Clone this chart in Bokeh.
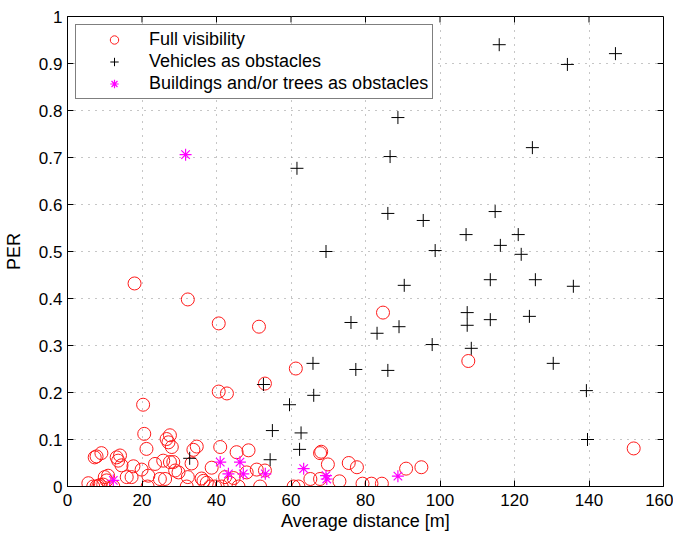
from bokeh.plotting import figure
from bokeh.models import FixedTicker, Range1d, Legend, LegendItem
from bokeh.embed import file_html
from bokeh.resources import INLINE

# Full visibility (red circles)
full_x = [18.0, 32.3, 40.6, 51.4, 53.0, 40.6, 42.8, 61.3, 84.7, 107.6, 152.0, 20.3, 20.6, 21.2,
          5.6, 6.9, 7.8, 8.3, 8.7, 9.6, 10.0, 10.9, 10.5, 7.3, 7.8, 9.1, 12.3, 13.2, 14.1, 13.6,
          14.5, 15.9, 17.2, 17.7, 19.9, 21.7, 21.5, 23.5, 24.8, 26.2, 25.7, 26.6, 27.5, 27.1,
          28.0, 27.5, 28.4, 28.9, 29.8,
          32.0, 32.3, 33.3, 33.8, 34.7, 36.0, 36.5, 37.4, 38.3, 38.7, 39.6, 41.0, 41.4, 42.3,
          43.6, 44.6, 45.4, 45.9, 48.6, 48.1, 50.8, 51.7, 53.0,
          60.7, 62.0, 65.2, 67.8, 68.1, 67.8, 69.9, 73.0, 75.5, 77.7, 79.2, 81.6, 84.4, 90.9, 95.0]
full_y = [0.432, 0.398, 0.347, 0.340, 0.219, 0.202, 0.198, 0.251, 0.370, 0.267, 0.081, 0.174, 0.112, 0.080,
          0.007, 0.000, 0.000, 0.001, 0.003, 0.004, 0.020, 0.023, 0.013, 0.062, 0.064, 0.071, 0.000, 0.062, 0.066, 0.055,
          0.045, 0.020, 0.020, 0.043, 0.036, 0.023, 0.000, 0.048, 0.016, 0.016, 0.055, 0.101, 0.109, 0.094,
          0.084, 0.052, 0.052, 0.034, 0.030,
          0.000, 0.020, 0.049, 0.078, 0.085, 0.017, 0.012, 0.008, 0.000, 0.040, 0.000, 0.084, 0.000, 0.020,
          0.008, 0.018, 0.073, 0.000, 0.077, 0.030, 0.036, 0.000, 0.034,
          0.000, 0.000, 0.016, 0.071, 0.074, 0.016, 0.047, 0.011, 0.050, 0.041, 0.006, 0.006, 0.006, 0.038, 0.041]

# Vehicles as obstacles (black plus)
veh_x = [115.9, 147.1, 134.2, 88.7, 86.6, 124.8, 61.6, 114.8, 86.0, 95.5, 107.0, 121.0, 116.2, 121.8,
         98.7, 69.4, 125.6, 113.5, 90.4, 135.8, 107.3, 124.0, 113.5, 76.1, 89.0, 107.3, 83.1, 97.9,
         108.4, 130.4, 65.9, 77.4, 86.0, 139.3, 66.1, 59.6, 52.6, 55.0, 62.7, 62.3, 139.6, 54.4, 32.8]
veh_y = [0.940, 0.921, 0.898, 0.785, 0.702, 0.721, 0.677, 0.585, 0.581, 0.566, 0.536, 0.536, 0.513, 0.494,
         0.502, 0.500, 0.440, 0.440, 0.428, 0.426, 0.370, 0.362, 0.355, 0.349, 0.340, 0.343, 0.326, 0.302,
         0.294, 0.262, 0.262, 0.249, 0.247, 0.204, 0.194, 0.174, 0.217, 0.119, 0.114, 0.079, 0.100, 0.057, 0.060]

# Buildings and/or trees as obstacles (magenta asterisk)
bld_x = [31.7, 12.3, 41.0, 46.3, 43.2, 47.2, 53.1, 63.4, 69.4, 69.6, 88.7]
bld_y = [0.706, 0.013, 0.052, 0.052, 0.027, 0.027, 0.027, 0.038, 0.023, 0.016, 0.022]

x_ticks = [0, 20, 40, 60, 80, 100, 120, 140, 160]
y_ticks = [0, 0.1, 0.2, 0.3, 0.4, 0.5, 0.6, 0.7, 0.8, 0.9, 1]
y_labels = ["0", "0.1", "0.2", "0.3", "0.4", "0.5", "0.6", "0.7", "0.8", "0.9", "1"]

FONT = "Liberation Sans"
FW, FH = 596, 470
TICK = 6

p = figure(frame_width=FW, frame_height=FH, output_backend="svg", toolbar_location=None,
           x_range=Range1d(0, 160), y_range=Range1d(0, 1),
           min_border_left=66, min_border_top=16, min_border_right=10, min_border_bottom=47,
           x_axis_label="Average distance [m]", y_axis_label="PER")
p.outline_line_color = "black"
p.outline_line_alpha = 1.0

r_full = p.scatter(full_x, full_y, marker="circle", size=13, fill_color=None,
                   line_color="#ff1a1a", line_width=1)
r_veh = p.scatter(veh_x, veh_y, marker="cross", size=13, line_color="black", line_width=1)
r_bld = p.scatter(bld_x, bld_y, marker="asterisk", size=12, line_color="#ff00ff", line_width=1.2)

for ax in (p.xaxis[0], p.yaxis[0]):
    ax.major_tick_in = TICK
    ax.major_tick_out = 0
    ax.minor_tick_line_color = None
    ax.axis_line_color = "black"
    ax.major_tick_line_color = "black"
    ax.major_label_text_font = FONT
    ax.major_label_text_font_size = "17px"
    ax.major_label_text_color = "black"
    ax.axis_label_text_font = FONT
    ax.axis_label_text_font_size = "18px"
    ax.axis_label_text_font_style = "normal"
    ax.axis_label_text_color = "black"

p.xaxis[0].ticker = FixedTicker(ticks=x_ticks)
p.yaxis[0].ticker = FixedTicker(ticks=y_ticks)
p.yaxis[0].major_label_overrides = {t: l for t, l in zip(y_ticks, y_labels)}
p.xaxis[0].major_label_standoff = 7
p.xaxis[0].axis_label_standoff = 2
p.yaxis[0].major_label_standoff = 5
p.yaxis[0].axis_label_standoff = 12

# inward ticks on the top and right edges of the box
xr = p.x_range.end - p.x_range.start
yr = p.y_range.end - p.y_range.start
inner_x = x_ticks[1:-1]
inner_y = y_ticks[1:-1]
p.segment(x0=inner_x, x1=inner_x, y0=[p.y_range.end] * len(inner_x),
          y1=[p.y_range.end - TICK * yr / FH] * len(inner_x), line_color="black", line_width=1)
p.segment(x0=[p.x_range.end] * len(inner_y), x1=[p.x_range.end - TICK * xr / FW] * len(inner_y),
          y0=inner_y, y1=inner_y, line_color="black", line_width=1)

p.xgrid.ticker = FixedTicker(ticks=x_ticks)
p.ygrid.ticker = FixedTicker(ticks=y_ticks)
for g in (p.xgrid, p.ygrid):
    g.grid_line_color = "#8c8c8c"
    g.grid_line_dash = "1 6"
    g.grid_line_width = 1

legend = Legend(items=[
    LegendItem(label="Full visibility", renderers=[r_full]),
    LegendItem(label="Vehicles as obstacles", renderers=[r_veh]),
    LegendItem(label="Buildings and/or trees as obstacles", renderers=[r_bld]),
], location="top_left")
legend.margin = 8
legend.padding = 4
legend.spacing = 1
legend.glyph_width = 68
legend.glyph_height = 21
legend.label_height = 21
legend.label_standoff = 1
legend.label_text_font = FONT
legend.label_text_font_size = "18px"
legend.label_text_color = "black"
legend.border_line_color = "black"
legend.border_line_width = 1
legend.background_fill_alpha = 1.0
p.add_layout(legend)

open("out.html", "w").write(file_html(p, INLINE))
